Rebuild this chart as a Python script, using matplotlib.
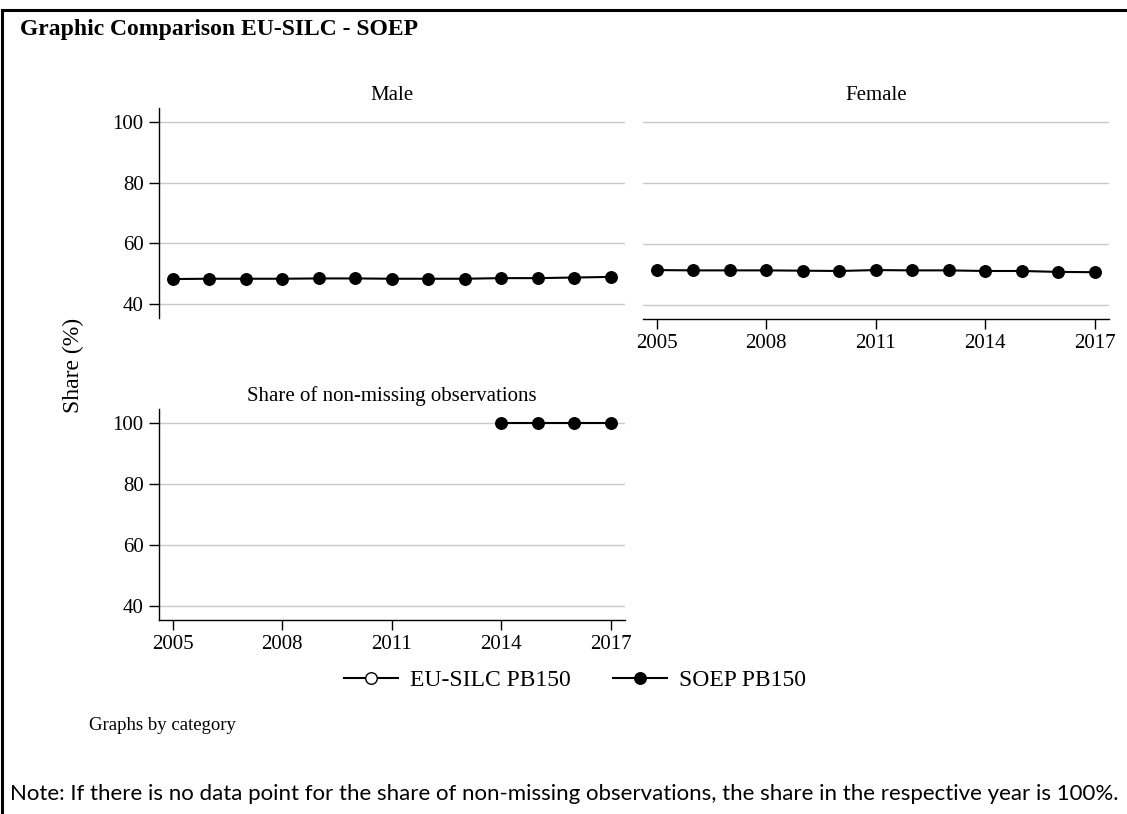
import matplotlib
matplotlib.use('Agg')
import matplotlib.pyplot as plt
import numpy as np
from matplotlib.lines import Line2D

# Data
years = list(range(2005, 2018))
male_soep = [48.3, 48.4, 48.4, 48.4, 48.5, 48.5, 48.4, 48.4, 48.4, 48.6, 48.6, 48.8, 49.0]
female_soep = [51.5, 51.4, 51.4, 51.4, 51.3, 51.2, 51.5, 51.4, 51.4, 51.2, 51.2, 50.9, 50.8]
nonmiss_years = [2014, 2015, 2016, 2017]
nonmiss_soep = [100, 100, 100, 100]
# EU-SILC series has no visible points in the reference
male_eusilc = [np.nan] * len(years)
female_eusilc = [np.nan] * len(years)
nonmiss_eusilc = [np.nan] * len(nonmiss_years)

x_ticks = [2005, 2008, 2011, 2014, 2017]
y_ticks = [40, 60, 80, 100]

plt.rcParams['font.family'] = ['Liberation Serif', 'DejaVu Serif']

W, H = 1127, 814
fig = plt.figure(figsize=(W / 100, H / 100), dpi=100)


def px_axes(left, top, right, bottom):
    return fig.add_axes([left / W, 1 - bottom / H, (right - left) / W, (bottom - top) / H])


def style(ax, title, show_x, show_y):
    ax.set_xlim(2004.63, 2017.39)
    ax.set_ylim(35.5, 104.5)
    ax.set_yticks(y_ticks)
    ax.set_xticks(x_ticks)
    ax.yaxis.grid(True, color='#c8c8c8', linewidth=1.0)
    ax.set_axisbelow(True)
    for s in ['top', 'right']:
        ax.spines[s].set_visible(False)
    ax.spines['left'].set_visible(show_y)
    ax.spines['bottom'].set_visible(show_x)
    ax.spines['left'].set_linewidth(1.0)
    ax.spines['bottom'].set_linewidth(1.0)
    ax.tick_params(axis='both', direction='out', length=7, width=1.0,
                   labelsize=15, pad=4)
    if not show_y:
        ax.tick_params(axis='y', left=False, labelleft=False)
    if not show_x:
        ax.tick_params(axis='x', bottom=False, labelbottom=False)
    ax.set_title(title, fontsize=15, pad=6)


def draw(ax, xs, soep, eusilc):
    ax.plot(xs, eusilc, color='black', linewidth=1.5, marker='o',
            markersize=8.3, markerfacecolor='white', markeredgecolor='black')
    ax.plot(xs, soep, color='black', linewidth=1.5, marker='o',
            markersize=8.3, markerfacecolor='black', markeredgecolor='black')


ax_m = px_axes(159, 108, 625, 318)
draw(ax_m, years, male_soep, male_eusilc)
style(ax_m, 'Male', show_x=False, show_y=True)

ax_f = px_axes(643, 108, 1109, 319)
draw(ax_f, years, female_soep, female_eusilc)
style(ax_f, 'Female', show_x=True, show_y=False)

ax_n = px_axes(159, 409, 625, 620)
draw(ax_n, nonmiss_years, nonmiss_soep, nonmiss_eusilc)
style(ax_n, 'Share of non-missing observations', show_x=True, show_y=True)

fig.text(73 / W, 1 - 365 / H, 'Share (%)', rotation=90, fontsize=17,
         ha='center', va='center')

handles = [
    Line2D([], [], color='black', linewidth=1.5, marker='o', markersize=8.3,
           markerfacecolor='white', markeredgecolor='black'),
    Line2D([], [], color='black', linewidth=1.5, marker='o', markersize=8.3,
           markerfacecolor='black', markeredgecolor='black'),
]
fig.legend(handles, ['EU-SILC PB150', 'SOEP PB150'], loc='center',
           bbox_to_anchor=(575 / W, 1 - 680 / H), ncol=2, frameon=False,
           fontsize=17, handlelength=2.3, columnspacing=1.8, handletextpad=0.5)

fig.text(89 / W, 1 - 725 / H, 'Graphs by category', fontsize=13.5,
         ha='left', va='center')

fig.text(20 / W, 1 - 29 / H, 'Graphic Comparison EU-SILC - SOEP',
         fontsize=17, fontweight='bold', ha='left', va='center')

fig.text(10 / W, 1 - 794 / H,
         'Note: If there is no data point for the share of non-missing observations, '
         'the share in the respective year is 100%.',
         fontsize=16, ha='left', va='center',
         family=['Lato', 'DejaVu Sans'])

# outer frame (top and left edges visible)
fig.add_artist(Line2D([2 / W, 1.0], [1 - 10 / H, 1 - 10 / H], color='black',
                      linewidth=2.2, transform=fig.transFigure))
fig.add_artist(Line2D([2 / W, 2 / W], [0.0, 1 - 10 / H], color='black',
                      linewidth=2.2, transform=fig.transFigure))

fig.savefig('out.png', dpi=100)
